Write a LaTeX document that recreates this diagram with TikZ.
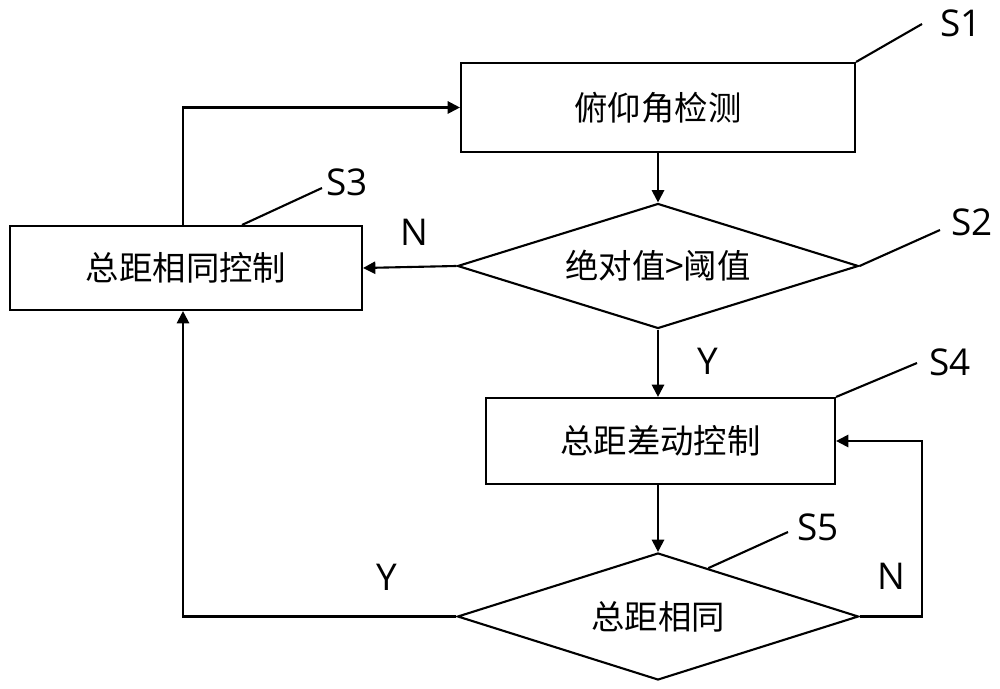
\documentclass[tikz,border=0pt]{standalone}
\usepackage{fontspec}
\setmainfont{Noto Sans CJK SC}
\newfontfamily\latinfont{Open Sans}
\usetikzlibrary{shapes.geometric,arrows.meta,calc}

\begin{document}
\begin{tikzpicture}[draw/.append style={line width=1.2pt,black},
    box/.style={draw,rectangle,inner sep=0pt,font=\fontsize{19}{22}\selectfont},
    decision/.style={draw,diamond,inner sep=0pt,aspect=3.2,minimum width=8.02cm,font=\fontsize{19}{22}\selectfont},
    flow/.style={-{Triangle[length=7pt,width=7pt]}},
    tag/.style={inner sep=0pt,font=\latinfont\fontsize{21}{25}\selectfont}]
    \useasboundingbox (0,0) rectangle (20,-13.78);
    % steps
    \node[box,minimum width=7.88cm,minimum height=1.78cm] (s1) at (13.16,-2.15) {俯仰角检测};
    \node[decision,minimum height=2.5cm] (s2) at (13.16,-5.32) {绝对值>阈值};
    \node[box,minimum width=7.04cm,minimum height=1.68cm] (s3) at (3.72,-5.36) {总距相同控制};
    \node[box,minimum width=6.98cm,minimum height=1.72cm] (s4) at (13.21,-8.82) {总距差动控制};
    \node[decision,minimum height=2.54cm] (s5) at (13.16,-12.33) {总距相同};
    \coordinate (up) at ([xshift=-0.06cm]s3.north);
    \coordinate (dn) at ([xshift=-0.06cm]s3.south);
    % connectors
    \draw[flow] (s1) -- (s2);
    \draw[flow] (s2.west) -- (s3.east);
    \draw[flow] (up) |- (s1.west);
    \draw[flow] (s2.south) -- (s2.south |- s4.north);
    \draw[flow] (s4.south -| s5.north) -- (s5.north);
    \draw[flow] (s5.west) -| (dn);
    \draw[flow] (s5.east) --++(1.24,0) |- (s4.east);
    \node[tag] (n1) at (8.28,-4.64) {N};
    \node[tag] (y1) at (14.16,-7.22) {Y};
    \node[tag] (y2) at (7.74,-11.54) {Y};
    \node[tag] (n2) at (17.82,-11.52) {N};
    % step labels
    \node[tag] (l1) at (19.22,-0.46) {S1};
    \node[tag] (l2) at (19.44,-4.44) {S2};
    \node[tag] (l3) at (6.94,-3.64) {S3};
    \node[tag] (l4) at (19.0,-7.24) {S4};
    \node[tag] (l5) at (16.36,-10.54) {S5};
    \coordinate (e1) at (18.44,-0.48);
    \coordinate (e2) at (18.8,-4.6);
    \coordinate (e3) at (6.44,-3.76);
    \coordinate (e4) at (18.34,-7.26);
    \coordinate (e5) at (15.76,-10.64);
    \draw (s1.north east) -- (e1);
    \draw (s2.east) -- (e2);
    \draw ([xshift=1.12cm]s3.north) -- (e3);
    \draw (s4.north east) -- (e4);
    \draw ($(s5.north)!0.25!(s5.east)$) -- (e5);
\end{tikzpicture}
\end{document}
